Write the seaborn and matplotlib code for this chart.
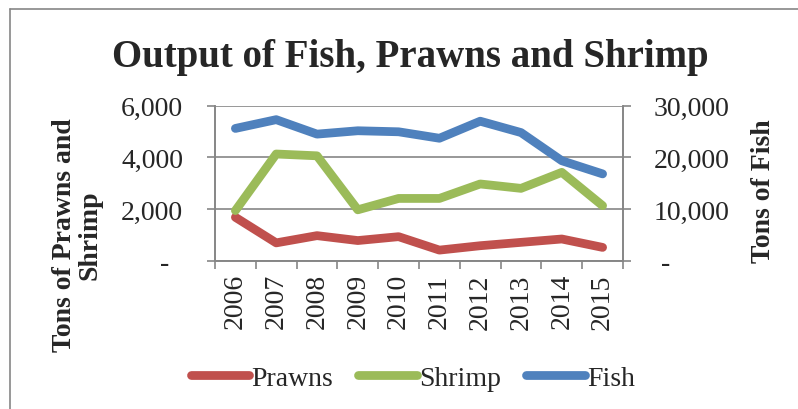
import numpy as np
import pandas as pd
import matplotlib
matplotlib.use("Agg")
import matplotlib.pyplot as plt
from matplotlib.lines import Line2D
import seaborn as sns

years = [2006, 2007, 2008, 2009, 2010, 2011, 2012, 2013, 2014, 2015]
prawns = [1680, 690, 970, 780, 930, 410, 580, 710, 840, 515]
shrimp = [1940, 4130, 4060, 1970, 2410, 2410, 2970, 2800, 3420, 2130]
fish = [25600, 27300, 24500, 25150, 24950, 23700, 27000, 24800, 19350, 16800]

c_prawns = "#C0504D"
c_shrimp = "#9BBB59"
c_fish = "#4F81BD"
gray = "#868686"

sns.set_theme(style="white")
plt.rcParams["font.family"] = ["Liberation Serif", "DejaVu Serif"]

df = pd.DataFrame({"Year": years, "Prawns": prawns, "Shrimp": shrimp, "Fish": fish})

fig = plt.figure(figsize=(7.98, 4.10), dpi=100)
ax = fig.add_axes([215/798, 1-261.7/410, (623-215)/798, (261.7-106.7)/410])
ax2 = ax.twinx()

lw = 6.3
sns.lineplot(data=df, x="Year", y="Prawns", ax=ax, color=c_prawns, lw=lw,
             solid_capstyle="round", label="Prawns", legend=False)
sns.lineplot(data=df, x="Year", y="Shrimp", ax=ax, color=c_shrimp, lw=lw,
             solid_capstyle="round", label="Shrimp", legend=False)
sns.lineplot(data=df, x="Year", y="Fish", ax=ax2, color=c_fish, lw=lw,
             solid_capstyle="round", label="Fish", legend=False)

ax.set_xlim(years[0]-0.5, years[-1]+0.5)
ax.set_ylim(0, 6000)
ax2.set_ylim(0, 30000)

fs = 20
ax.set_yticks([0, 2000, 4000, 6000])
ax.set_yticklabels(["-  " if v == 0 else f"{v:,}" for v in [0, 2000, 4000, 6000]], fontsize=fs)
ax2.set_yticks([0, 10000, 20000, 30000])
ax2.set_yticklabels([" -" if v == 0 else f"{v:,}" for v in [0, 10000, 20000, 30000]], fontsize=fs)

ax.set_xticks(years)
ax.set_xticklabels([str(y) for y in years], rotation=90, fontsize=fs)
ax.set_xticks([y - 0.5 for y in years] + [years[-1] + 0.5], minor=True)
ax.tick_params(axis="x", which="major", length=0, pad=9)
ax.tick_params(axis="x", which="minor", length=6, width=1.2, color=gray, direction="out", bottom=True)
ax.tick_params(axis="y", which="major", length=6, width=1.2, color=gray, direction="out", left=True, pad=17)
ax2.tick_params(axis="y", which="major", length=6, width=1.2, color=gray, direction="out", right=True, pad=16)

ax.grid(axis="y", color=gray, lw=1.2)
ax.set_axisbelow(True)
for a in (ax, ax2):
    a.spines["top"].set_visible(False)
    for s in ["left", "right", "bottom"]:
        a.spines[s].set_color(gray)
        a.spines[s].set_linewidth(1.2)
ax.set_xlabel("")
ax.set_ylabel("")
ax2.set_ylabel("")

fig.text(0.514, 1-57/410, "Output of Fish, Prawns and Shrimp", ha="center", va="center",
         fontsize=28, fontweight="bold")
fig.text(77/798, 1-235/410, "Tons of Prawns and\nShrimp", rotation=90, ha="center", va="center",
         fontsize=fs, fontweight="bold", multialignment="center", linespacing=1.0)
fig.text(764/798, 1-191/410, "Tons of Fish", rotation=90, ha="center", va="center",
         fontsize=fs, fontweight="bold")

handles = [Line2D([], [], color=c, lw=lw, solid_capstyle="round") for c in (c_prawns, c_shrimp, c_fish)]
fig.legend(handles, ["Prawns", "Shrimp", "Fish"], loc="center", bbox_to_anchor=(413/798, 1-379/410),
           ncol=3, frameon=False, fontsize=fs, handlelength=2.1, handletextpad=0.1, columnspacing=0.9)

fig.add_artist(Line2D([10/798, 10/798], [0, 1-10/410], transform=fig.transFigure, color=gray, lw=1.2))
fig.add_artist(Line2D([10/798, 1], [1-10/410, 1-10/410], transform=fig.transFigure, color=gray, lw=1.2))

fig.savefig("out.png", dpi=100)
